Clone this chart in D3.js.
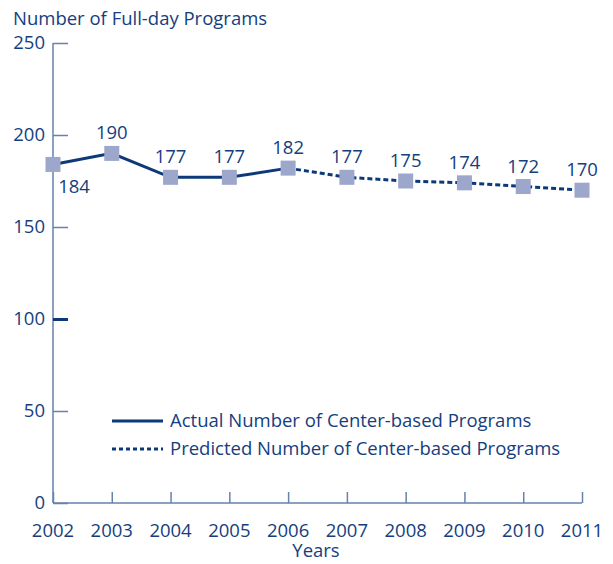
<!DOCTYPE html>
<html>
<head>
<meta charset="utf-8">
<script src="https://cdn.jsdelivr.net/npm/d3@7"></script>
<style>
    body { margin: 0; background: #fff; }
    text { font-family: "Open Sans", sans-serif; fill: #153e7e; font-size: 18.5px; }
</style>
</head>
<body>
<div id="wrapper"></div>
<script>
const years = [2002, 2003, 2004, 2005, 2006, 2007, 2008, 2009, 2010, 2011];
const actualYears = [2002, 2003, 2004, 2005, 2006];
const actualValues = [184, 190, 177, 177, 182];
const predictedYears = [2006, 2007, 2008, 2009, 2010, 2011];
const predictedValues = [182, 177, 175, 174, 172, 170];
const yTicks = [0, 50, 100, 150, 200, 250];
const legendLabels = ["Actual Number of Center-based Programs", "Predicted Number of Center-based Programs"];

const dimensions = {
    width: 613,
    height: 564,
    margin: { top: 43, right: 31, bottom: 61, left: 53 },
};
dimensions.boundedWidth = dimensions.width - dimensions.margin.left - dimensions.margin.right;
dimensions.boundedHeight = dimensions.height - dimensions.margin.top - dimensions.margin.bottom;

const navy = "#0c3a79";
const axisColor = "#6682ad";
const markerColor = "#9ca7cb";

const wrapper = d3.select("#wrapper")
    .append("svg")
    .attr("width", dimensions.width)
    .attr("height", dimensions.height);

const bounds = wrapper.append("g")
    .attr("transform", `translate(${dimensions.margin.left},${dimensions.margin.top})`);

const xScale = d3.scalePoint()
    .domain(years)
    .range([0, dimensions.boundedWidth]);

const yScale = d3.scaleLinear()
    .domain([0, 250])
    .range([dimensions.boundedHeight, 0]);

// y axis, ticks pointing inward
const yAxis = bounds.append("g")
    .call(d3.axisRight(yScale).tickValues(yTicks).tickSize(15).tickFormat(""));
yAxis.select(".domain").attr("d", `M0,0V${dimensions.boundedHeight}`);
yAxis.selectAll("path, line").attr("stroke", axisColor).attr("stroke-width", 1.5);
// the 100 tick is heavier in the original
yAxis.selectAll(".tick line").filter(d => d === 100)
    .attr("stroke", navy).attr("stroke-width", 3);

bounds.append("g")
    .selectAll("text")
    .data(yTicks)
    .join("text")
    .attr("x", -8)
    .attr("y", d => yScale(d))
    .attr("dy", "0.35em")
    .attr("text-anchor", "end")
    .text(d => d);

// x axis, ticks pointing up
const xAxis = bounds.append("g")
    .attr("transform", `translate(0,${dimensions.boundedHeight})`)
    .call(d3.axisTop(xScale).tickSize(11).tickFormat(""));
xAxis.select(".domain").attr("d", `M0,0H${dimensions.boundedWidth}`);
xAxis.selectAll("path, line").attr("stroke", axisColor).attr("stroke-width", 1.5);

bounds.append("g")
    .selectAll("text")
    .data(years)
    .join("text")
    .attr("x", d => xScale(d))
    .attr("y", dimensions.boundedHeight + 34)
    .attr("text-anchor", "middle")
    .text(d => d);

wrapper.append("text")
    .attr("x", 316)
    .attr("y", 557)
    .attr("text-anchor", "middle")
    .text("Years");

wrapper.append("text")
    .attr("x", 13)
    .attr("y", 25)
    .text("Number of Full-day Programs");

// lines
const line = d3.line()
    .x(d => xScale(d[0]))
    .y(d => yScale(d[1]));

const actual = d3.zip(actualYears, actualValues);
const predicted = d3.zip(predictedYears, predictedValues);

bounds.append("path")
    .datum(actual)
    .attr("d", line)
    .attr("fill", "none")
    .attr("stroke", navy)
    .attr("stroke-width", 3);

bounds.append("path")
    .datum(predicted)
    .attr("d", line)
    .attr("fill", "none")
    .attr("stroke", navy)
    .attr("stroke-width", 3)
    .attr("stroke-dasharray", "5,3");

const points = d3.zip(years, [...actualValues, ...predictedValues.slice(1)]);

bounds.selectAll(".marker")
    .data(points)
    .join("rect")
    .attr("class", "marker")
    .attr("x", d => xScale(d[0]) - 7.5)
    .attr("y", d => yScale(d[1]) - 7.5)
    .attr("width", 15)
    .attr("height", 15)
    .attr("fill", markerColor);

bounds.selectAll(".val")
    .data(points)
    .join("text")
    .attr("class", "val")
    .attr("x", (d, i) => xScale(d[0]) + (i === 0 ? 21 : 0))
    .attr("y", (d, i) => yScale(d[1]) + (i === 0 ? 29 : -14))
    .attr("text-anchor", "middle")
    .text(d => d[1]);

// legend
const legend = wrapper.append("g")
    .attr("transform", "translate(112,421)");

legendLabels.forEach((label, i) => {
    legend.append("line")
        .attr("x1", 0)
        .attr("x2", 51)
        .attr("y1", i * 28)
        .attr("y2", i * 28)
        .attr("stroke", navy)
        .attr("stroke-width", 3)
        .attr("stroke-dasharray", i === 0 ? null : "4,3");
    legend.append("text")
        .attr("x", 58)
        .attr("y", i * 28)
        .attr("dy", "0.35em")
        .text(label);
});
</script>
</body>
</html>
